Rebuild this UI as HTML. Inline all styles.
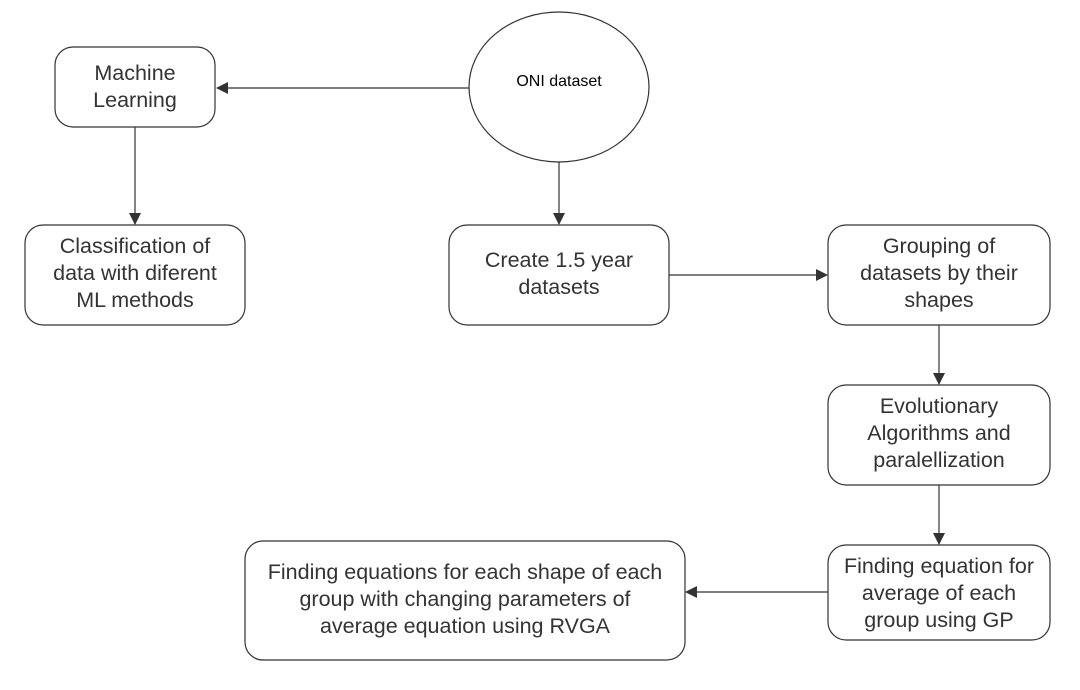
<!DOCTYPE html>
<html><head><style>
body{margin:0;background:#fff;}
svg text{font-family:"Liberation Sans",sans-serif;font-size:21.5px;fill:#333;text-anchor:middle;}
</style></head><body>
<svg width="1080" height="685" viewBox="0 0 1080 685" xmlns="http://www.w3.org/2000/svg">
<defs><marker id="a" markerWidth="12" markerHeight="12" refX="11" refY="6" orient="auto" markerUnits="userSpaceOnUse"><path d="M0,0 L12,6 L0,12 z" fill="#333"/></marker></defs>
<g fill="#fff" stroke="#333" stroke-width="1.2">
<rect x="55" y="47" width="160" height="80" rx="18"/>
<ellipse cx="559" cy="87" rx="90" ry="75"/>
<rect x="25" y="225" width="220" height="100" rx="18"/>
<rect x="449" y="225" width="220" height="100" rx="18"/>
<rect x="828" y="225" width="222" height="100" rx="18"/>
<rect x="828" y="385" width="222" height="100" rx="18"/>
<rect x="828" y="545" width="222" height="95" rx="18"/>
<rect x="245" y="541" width="440" height="119" rx="18"/>
</g>
<g stroke="#333" stroke-width="1.2" marker-end="url(#a)">
<line x1="469" y1="88" x2="217" y2="88"/>
<line x1="135" y1="127" x2="135" y2="224"/>
<line x1="559" y1="162" x2="559" y2="224"/>
<line x1="669" y1="275" x2="827" y2="275"/>
<line x1="939" y1="325" x2="939" y2="384"/>
<line x1="939" y1="485" x2="939" y2="544"/>
<line x1="828" y1="592" x2="686" y2="592"/>
</g>
<text x="135" y="80">Machine</text><text x="135" y="107">Learning</text>
<text x="559" y="86" style="font-size:16px;fill:#000">ONI dataset</text>
<text x="135" y="253">Classification of</text><text x="135" y="280">data with diferent</text><text x="135" y="307">ML methods</text>
<text x="559" y="267">Create 1.5 year</text><text x="559" y="294">datasets</text>
<text x="939" y="253">Grouping of</text><text x="939" y="280">datasets by their</text><text x="939" y="307">shapes</text>
<text x="939" y="413">Evolutionary</text><text x="939" y="440">Algorithms and</text><text x="939" y="467">paralellization</text>
<text x="939" y="573">Finding equation for</text><text x="939" y="600">average of each</text><text x="939" y="627">group using GP</text>
<text x="465" y="579">Finding equations for each shape of each</text><text x="465" y="606">group with changing parameters of</text><text x="465" y="633">average equation using RVGA</text>
</svg>
</body></html>
